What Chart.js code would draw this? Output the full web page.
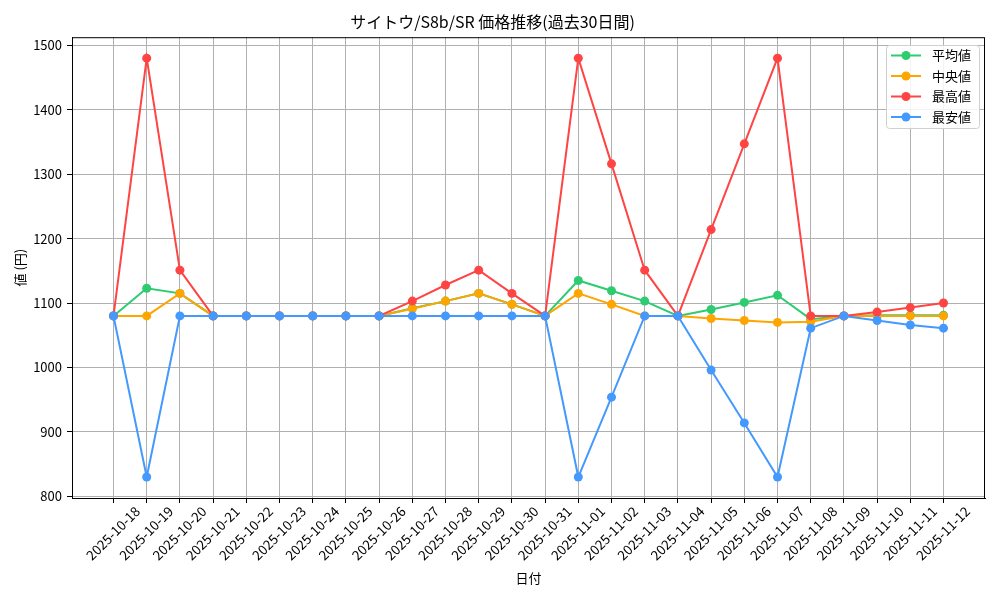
<!DOCTYPE html>
<html>
<head>
<meta charset="utf-8">
<script src="https://cdn.jsdelivr.net/npm/chart.js@4"></script>
<style>
  body { margin: 0; background: #fff; }
  #wrap { width: 1000px; height: 600px; }
</style>
</head>
<body>
<div id="wrap"><canvas id="priceChart" width="1000" height="600"></canvas></div>
<script>
// 日付ラベル
var dates = ['2025-10-18', '2025-10-19', '2025-10-20', '2025-10-21', '2025-10-22', '2025-10-23',
  '2025-10-24', '2025-10-25', '2025-10-26', '2025-10-27', '2025-10-28', '2025-10-29', '2025-10-30',
  '2025-10-31', '2025-11-01', '2025-11-02', '2025-11-03', '2025-11-04', '2025-11-05', '2025-11-06',
  '2025-11-07', '2025-11-08', '2025-11-09', '2025-11-10', '2025-11-11', '2025-11-12'];

var seriesNames = ['平均値', '中央値', '最高値', '最安値'];

var avgPrice = [1080, 1123, 1115, 1080, 1080, 1080, 1080, 1080, 1080, 1092, 1103, 1115, 1098,
  1080, 1135, 1119, 1103, 1080, 1090, 1101, 1112, 1075, 1080, 1081, 1081, 1081];
var medianPrice = [1080, 1080, 1115, 1080, 1080, 1080, 1080, 1080, 1080, 1091, 1103, 1115, 1098,
  1080, 1115, 1098, 1080, 1080, 1076, 1073, 1070, 1071, 1080, 1080, 1080, 1080];
var maxPrice = [1080, 1480, 1151, 1080, 1080, 1080, 1080, 1080, 1080, 1103, 1128, 1151, 1115,
  1080, 1480, 1316, 1151, 1080, 1214, 1347, 1480, 1080, 1080, 1086, 1093, 1100];
var minPrice = [1080, 830, 1080, 1080, 1080, 1080, 1080, 1080, 1080, 1080, 1080, 1080, 1080,
  1080, 830, 954, 1080, 1080, 996, 914, 830, 1061, 1080, 1073, 1066, 1061];

var yTicks = [800, 900, 1000, 1100, 1200, 1300, 1400, 1500];

var colors = ['#2ECC71', '#FFA500', '#FF4444', '#4499FF'];
var FONT = "'Noto Sans CJK JP', 'Noto Sans', sans-serif";

function toPoints(arr) {
  return arr.map(function (v, i) { return { x: i, y: v }; });
}

function makeSet(idx, values, order) {
  return {
    label: seriesNames[idx],
    data: toPoints(values),
    borderColor: colors[idx],
    backgroundColor: colors[idx],
    borderWidth: 2,
    pointRadius: 4.5,
    pointHoverRadius: 4.5,
    pointBorderWidth: 0,
    tension: 0,
    order: order
  };
}

// 枠線と凡例（matplotlib 風）
var framePlugin = {
  id: 'frame',
  afterDraw: function (chart) {
    var c = chart.ctx, a = chart.chartArea;
    c.save();
    c.strokeStyle = '#000';
    c.lineWidth = 1;
    c.strokeRect(a.left + 0.5, a.top + 0.5, a.right - a.left - 1, a.bottom - a.top);

    // 凡例
    var bx = 886, by = 45, bw = 93, bh = 83;
    c.fillStyle = 'rgba(255,255,255,0.85)';
    c.strokeStyle = '#d0d0d0';
    c.beginPath();
    c.roundRect(bx + 0.5, by + 0.5, bw, bh, 3);
    c.fill();
    c.stroke();
    c.font = '13px ' + FONT;
    c.textBaseline = 'middle';
    c.textAlign = 'left';
    for (var i = 0; i < seriesNames.length; i++) {
      var y = by + 10.5 + i * 20.5;
      c.strokeStyle = colors[i];
      c.lineWidth = 2;
      c.beginPath();
      c.moveTo(bx + 5, y);
      c.lineTo(bx + 35, y);
      c.stroke();
      c.fillStyle = colors[i];
      c.beginPath();
      c.arc(bx + 20, y, 4.5, 0, Math.PI * 2);
      c.fill();
      c.fillStyle = '#000';
      c.fillText(seriesNames[i], bx + 46, y);
    }
    c.restore();
  }
};

var ctx = document.getElementById('priceChart').getContext('2d');

var priceChart = new Chart(ctx, {
  type: 'line',
  data: {
    datasets: [
      makeSet(0, avgPrice, 4),
      makeSet(1, medianPrice, 3),
      makeSet(2, maxPrice, 2),
      makeSet(3, minPrice, 1)
    ]
  },
  options: {
    responsive: false,
    animation: false,
    devicePixelRatio: 1,
    layout: { padding: { left: 0, right: 15, top: 0, bottom: 0 } },
    plugins: {
      legend: { display: false },
      tooltip: { enabled: false },
      title: {
        display: true,
        text: 'サイトウ/S8b/SR 価格推移(過去30日間)',
        color: '#000',
        font: { family: FONT, size: 16, weight: 'normal' },
        padding: { top: 12, bottom: 6 }
      }
    },
    scales: {
      x: {
        type: 'linear',
        min: -1.25,
        max: 26.25,
        afterBuildTicks: function (scale) {
          scale.ticks = dates.map(function (d, i) { return { value: i }; });
        },
        afterFit: function (scale) { scale.height = 102; },
        ticks: {
          autoSkip: false,
          minRotation: 45,
          maxRotation: 45,
          padding: 0,
          labelOffset: 24,
          color: '#000',
          font: { family: FONT, size: 13.5 },
          callback: function (v) { return dates[v]; }
        },
        grid: { color: '#b0b0b0', lineWidth: 1, tickLength: 5, tickColor: '#000' },
        border: { color: '#000', width: 1 },
        title: {
          display: true,
          text: '日付',
          color: '#000',
          font: { family: FONT, size: 13 },
          padding: { top: 4, bottom: 14 }
        }
      },
      y: {
        type: 'linear',
        min: 797.5,
        max: 1512.5,
        afterBuildTicks: function (scale) {
          scale.ticks = yTicks.map(function (v) { return { value: v }; });
        },
        afterFit: function (scale) { scale.width = 72; },
        ticks: {
          padding: 5,
          color: '#000',
          font: { family: FONT, size: 13 },
          callback: function (v) { return String(v); }
        },
        grid: { color: '#b0b0b0', lineWidth: 1, tickLength: 5, tickColor: '#000' },
        border: { color: '#000', width: 1 },
        title: {
          display: true,
          text: '値 (円)',
          color: '#000',
          font: { family: FONT, size: 13 },
          padding: { top: 12, bottom: 4 }
        }
      }
    }
  },
  plugins: [framePlugin]
});
</script>
</body>
</html>
